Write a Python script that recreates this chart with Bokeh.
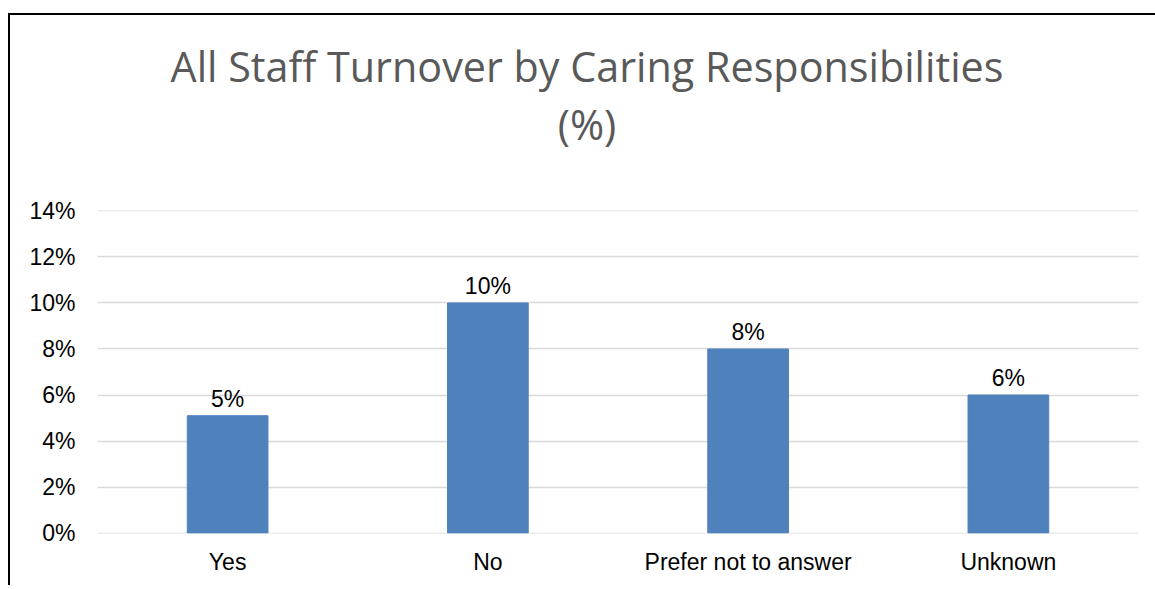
from bokeh.plotting import figure
from bokeh.models import Range1d, FixedTicker, NumeralTickFormatter, ColumnDataSource, Div
from bokeh.layouts import column
from bokeh.core.properties import value
from bokeh.embed import file_html
from bokeh.resources import INLINE

categories = ["Yes", "No", "Prefer not to answer", "Unknown"]
turnover = [0.051, 0.100, 0.080, 0.060]
bar_labels = ["5%", "10%", "8%", "6%"]
y_ticks = [0, 0.02, 0.04, 0.06, 0.08, 0.10, 0.12, 0.14]
title_line1 = "All Staff Turnover by Caring Responsibilities"
title_line2 = "(%)"

src = ColumnDataSource(dict(cat=categories, val=turnover, lab=bar_labels))

p = figure(x_range=categories, y_range=Range1d(-0.0002, 0.1402), width=1145, height=420,
           output_backend="svg", toolbar_location=None,
           min_border_left=87, min_border_right=17, min_border_top=45, min_border_bottom=52)
p.x_range.range_padding = 0
p.outline_line_color = None
p.background_fill_color = "white"
p.border_fill_color = "white"

p.vbar(x="cat", top="val", bottom=0, width=0.31, source=src, color="#4F81BD")
p.text(x="cat", y="val", text="lab", source=src, text_align="center",
       text_baseline="alphabetic", y_offset=-17,
       text_font=value("Liberation Sans"), text_font_size="23px", text_color="#000000")

p.xgrid.grid_line_color = None
p.ygrid.grid_line_color = "#D9D9D9"
p.ygrid.grid_line_width = 1.5
p.yaxis.ticker = FixedTicker(ticks=y_ticks)
p.yaxis.formatter = NumeralTickFormatter(format="0%")
for ax in (p.xaxis[0], p.yaxis[0]):
    ax.axis_line_color = None
    ax.major_tick_line_color = None
    ax.minor_tick_line_color = None
    ax.major_label_text_font = "Liberation Sans"
    ax.major_label_text_font_size = "23px"
    ax.major_label_text_color = "#000000"
p.yaxis.major_label_standoff = 16
p.xaxis.major_label_standoff = 9

title_html = (
    '<div style="margin:0; padding-top:22px; margin-left:14px; width:1126px; '
    'text-align:center; font-family:\'Open Sans\'; font-size:41.3px; line-height:58px; '
    'color:#595959;">' + title_line1 + '<br>' + title_line2 + '</div>'
)
title_div = Div(text=title_html, width=1145, height=150,
                styles={"margin": "0", "padding": "0"})

layout = column(title_div, p, spacing=0)
layout.styles = {"margin-left": "8px", "margin-top": "13px", "background-color": "white",
                 "border-left": "2px solid #000000", "border-top": "2px solid #000000"}

open("out.html", "w").write(file_html(layout, INLINE))
